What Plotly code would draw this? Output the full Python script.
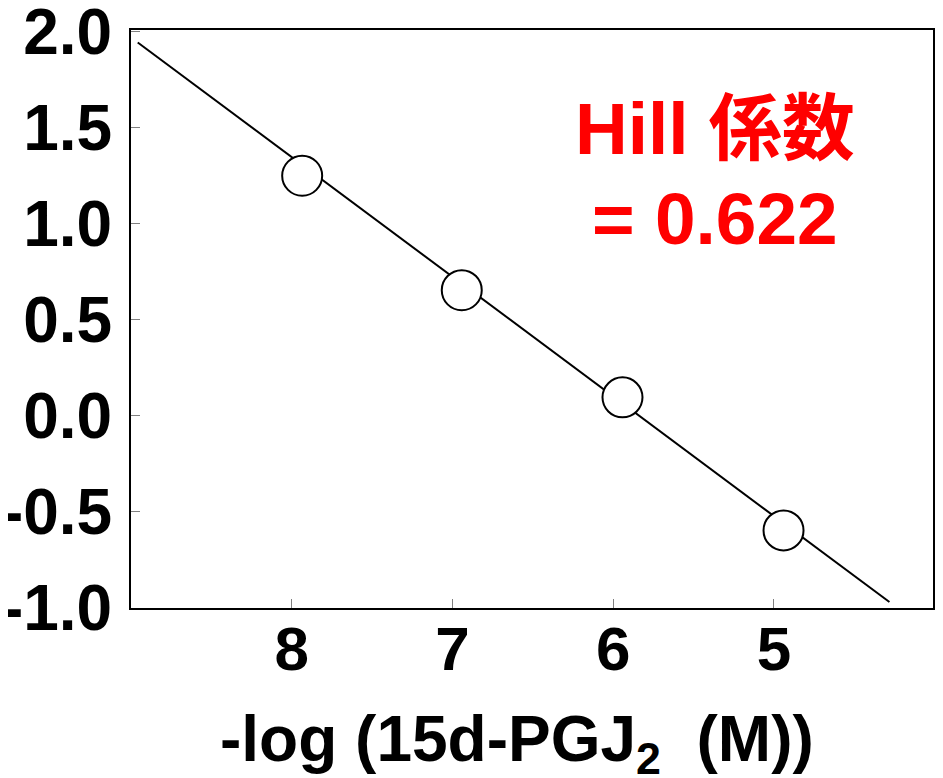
import plotly.graph_objects as go

# Data
x_points = [7.935, 6.942, 5.942, 4.94]
y_points = [1.251, 0.655, 0.097, -0.596]
fit_x = [8.958, 4.281]
fit_y = [1.945, -0.969]
x_tick_vals = [8, 7, 6, 5]
x_tick_text = ["8", "7", "6", "5"]
y_tick_vals = [2.0, 1.5, 1.0, 0.5, 0.0, -0.5, -1.0]
y_tick_text = ["2.0", "1.5", "1.0", "0.5", "0.0", "-0.5", "-1.0"]
hill_lines = ["Hill 係数", "= 0.622"]
x_title = "-log (15d-PGJ<sub>2</sub>  (M))"

FONT = "Liberation Sans, Arial, Noto Sans CJK JP, sans-serif"

fig = go.Figure()
fig.add_trace(go.Scatter(
    x=fit_x, y=fit_y, mode="lines",
    line=dict(color="black", width=2), showlegend=False, hoverinfo="skip"))
fig.add_trace(go.Scatter(
    x=x_points, y=y_points, mode="markers",
    marker=dict(size=40, color="white", line=dict(color="black", width=2)),
    showlegend=False))

# page body adds an 8px offset; the figure is sized to fit inside the window
fig.update_layout(
    width=935, height=770,
    margin=dict(l=123, r=10, t=22, b=170, autoexpand=False),
    plot_bgcolor="white", paper_bgcolor="white",
    font=dict(family=FONT, color="black"),
)
fig.update_xaxes(
    range=[9.0, 4.01], showgrid=False, zeroline=False, automargin=False,
    showline=True, linecolor="black", linewidth=2, mirror=True,
    tickmode="array", tickvals=x_tick_vals, ticktext=x_tick_text,
    ticks="inside", ticklen=9, tickwidth=1, tickcolor="#808080",
    tickfont=dict(family=FONT, size=62, weight="bold", color="black"),
    ticklabelstandoff=-14, ticklabeloverflow="allow",
)
fig.update_yaxes(
    range=[-1.0, 2.01], showgrid=False, zeroline=False, automargin=False,
    showline=True, linecolor="black", linewidth=2, mirror=True,
    tickmode="array", tickvals=y_tick_vals, ticktext=y_tick_text,
    ticks="inside", ticklen=9, tickwidth=1, tickcolor="#808080",
    tickfont=dict(family=FONT, size=64, weight="bold", color="black"),
    ticklabelstandoff=4, ticklabeloverflow="allow",
)
fig.add_annotation(
    text=x_title, xref="paper", yref="paper", x=0.481, y=-0.233,
    xanchor="center", yanchor="middle", showarrow=False,
    font=dict(family=FONT, size=64, weight="bold", color="black"))
for txt, yy in zip(hill_lines, [0.830, 0.674]):
    fig.add_annotation(
        text=txt, xref="paper", yref="paper", x=0.728, y=yy,
        xanchor="center", yanchor="middle", showarrow=False,
        font=dict(family=FONT, size=73, weight="bold", color="#ff0000"))

fig.write_html("out.html")
